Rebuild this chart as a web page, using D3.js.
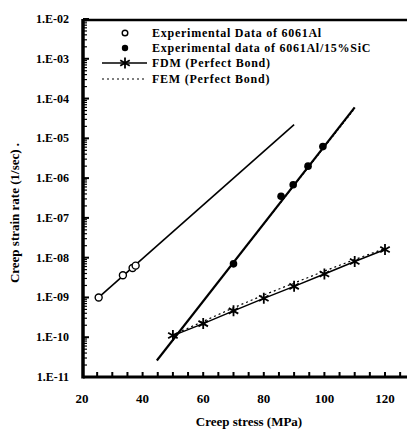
<!DOCTYPE html>
<html>
<head>
<meta charset="utf-8">
<script src="https://cdnjs.cloudflare.com/ajax/libs/d3/7.8.5/d3.min.js"></script>
<style>
  body { margin: 0; background: #fff; }
  text { font-family: "Liberation Serif", "Times New Roman", serif; font-weight: bold; }
</style>
</head>
<body>
<div id="chart"></div>
<script>

// experimental points
var alStress = [25.5, 33.5, 36.7, 37.7];
var alRate = [1e-9, 3.6e-9, 5.5e-9, 6.3e-9];

var sicStress = [70, 85.7, 89.7, 94.6, 99.5];
var sicRate = [7e-9, 3.5e-7, 6.8e-7, 2.0e-6, 6.2e-6];

// model curves
var fdmAlStress = [25.5, 90];
var fdmAlRate = [1e-9, 2.2e-5];

var fdmSicStress = [44.7, 110];
var fdmSicRate = [2.6e-11, 6e-5];

var femSicStress = [52, 110];
var femSicRate = [1.35e-10, 5.5e-5];

var fdmLowStress = [50, 60, 70, 80, 90, 100, 110, 120];
var fdmLowRate = [1.1e-10, 2.2e-10, 4.6e-10, 9.5e-10, 1.9e-9, 3.9e-9, 8e-9, 1.6e-8];

var femLowStress = [50, 60, 70, 80, 90, 100, 110, 120];
var femLowRate = [1.15e-10, 2.5e-10, 5.5e-10, 1.15e-9, 2.3e-9, 4.6e-9, 9e-9, 1.7e-8];

var xTicks = [20, 40, 60, 80, 100, 120];
var yTicks = [1e-11, 1e-10, 1e-9, 1e-8, 1e-7, 1e-6, 1e-5, 1e-4, 1e-3, 1e-2];

var legendLabels = [
    'Experimental Data of 6061Al',
    'Experimental data of 6061Al/15%SiC',
    'FDM (Perfect Bond)',
    'FEM (Perfect Bond)'
];

function zip(xs, ys) {
    return xs.map(function (x, i) { return [x, ys[i]]; });
}

var attrs = {
    svgWidth: 407,
    svgHeight: 429,
    left: 83,
    right: 407,
    top: 20,
    bottom: 377
};

var svg = d3.select('#chart')
    .append('svg')
    .attr('width', attrs.svgWidth)
    .attr('height', attrs.svgHeight);

var x = d3.scaleLinear().domain([20, 120]).range([82, 385]);
var y = d3.scaleLog().domain([1e-11, 1e-2]).range([attrs.bottom, 19]);

//axes
var xMinor = d3.range(25, 130, 5).filter(function (v) { return x(v) < attrs.right; });

svg.append('g')
    .attr('transform', 'translate(0,' + attrs.bottom + ')')
    .selectAll('line')
    .data(xMinor)
    .enter()
    .append('line')
    .attr('x1', function (d) { return x(d); })
    .attr('x2', function (d) { return x(d); })
    .attr('y1', 0)
    .attr('y2', -5)
    .attr('stroke', '#000')
    .attr('stroke-width', 2);

svg.append('g')
    .selectAll('text')
    .data(xTicks)
    .enter()
    .append('text')
    .attr('x', function (d) { return x(d); })
    .attr('y', 403)
    .attr('text-anchor', 'middle')
    .attr('font-size', 13)
    .text(function (d) { return d; });

var yMinor = [];
yTicks.slice(0, -1).forEach(function (t) {
    for (var k = 2; k <= 9; k++) yMinor.push(t * k);
});

svg.append('g')
    .selectAll('line.minor')
    .data(yMinor)
    .enter()
    .append('line')
    .attr('x1', attrs.left)
    .attr('x2', attrs.left + 4)
    .attr('y1', function (d) { return y(d); })
    .attr('y2', function (d) { return y(d); })
    .attr('stroke', '#000')
    .attr('stroke-width', 1.2);

svg.append('g')
    .selectAll('line.major')
    .data(yTicks)
    .enter()
    .append('line')
    .attr('x1', attrs.left)
    .attr('x2', attrs.left + 6)
    .attr('y1', function (d) { return y(d); })
    .attr('y2', function (d) { return y(d); })
    .attr('stroke', '#000')
    .attr('stroke-width', 2);

svg.append('g')
    .selectAll('text')
    .data(yTicks)
    .enter()
    .append('text')
    .attr('x', 69)
    .attr('y', function (d) { return y(d) + 4; })
    .attr('text-anchor', 'end')
    .attr('font-size', 12)
    .text(function (d) {
        var e = Math.round(Math.log10(d));
        return '1.E-' + d3.format('02d')(-e);
    });

// frame
svg.append('line')
    .attr('x1', attrs.left).attr('x2', attrs.right)
    .attr('y1', attrs.top).attr('y2', attrs.top)
    .attr('stroke', '#000').attr('stroke-width', 2.5);
svg.append('line')
    .attr('x1', attrs.left).attr('x2', attrs.right)
    .attr('y1', attrs.bottom).attr('y2', attrs.bottom)
    .attr('stroke', '#000').attr('stroke-width', 3);
svg.append('line')
    .attr('x1', attrs.left).attr('x2', attrs.left)
    .attr('y1', attrs.top - 1).attr('y2', attrs.bottom + 1.5)
    .attr('stroke', '#000').attr('stroke-width', 3.5);

// titles
svg.append('text')
    .attr('transform', 'translate(19,213) rotate(-90)')
    .attr('text-anchor', 'middle')
    .attr('font-size', 13)
    .text('Creep strain rate (1/sec) .');

svg.append('text')
    .attr('x', 249)
    .attr('y', 426)
    .attr('text-anchor', 'middle')
    .attr('font-size', 13)
    .text('Creep stress (MPa)');

//lines
var line = d3.line()
    .x(function (d) { return x(d[0]); })
    .y(function (d) { return y(d[1]); });

var curves = [
    { data: zip(fdmAlStress, fdmAlRate), width: 1.6, dash: null },
    { data: zip(fdmSicStress, fdmSicRate), width: 2.2, dash: null },
    { data: zip(femSicStress, femSicRate), width: 1, dash: '2,2' },
    { data: zip(fdmLowStress, fdmLowRate), width: 1.5, dash: null },
    { data: zip(femLowStress, femLowRate), width: 1.2, dash: '2,3' }
];

svg.append('g')
    .selectAll('path')
    .data(curves)
    .enter()
    .append('path')
    .attr('d', function (d) { return line(d.data); })
    .attr('fill', 'none')
    .attr('stroke', '#000')
    .attr('stroke-width', function (d) { return d.width; })
    .attr('stroke-dasharray', function (d) { return d.dash; });

// markers
var star = d3.symbol().type(d3.symbolAsterisk).size(85);

svg.append('g')
    .selectAll('circle')
    .data(zip(alStress, alRate))
    .enter()
    .append('circle')
    .attr('cx', function (d) { return x(d[0]); })
    .attr('cy', function (d) { return y(d[1]); })
    .attr('r', 3.5)
    .attr('fill', '#fff')
    .attr('stroke', '#000')
    .attr('stroke-width', 1.4);

svg.append('g')
    .selectAll('circle')
    .data(zip(sicStress, sicRate))
    .enter()
    .append('circle')
    .attr('cx', function (d) { return x(d[0]); })
    .attr('cy', function (d) { return y(d[1]); })
    .attr('r', 3.8)
    .attr('fill', '#000');

svg.append('g')
    .selectAll('path')
    .data(zip(fdmLowStress, fdmLowRate))
    .enter()
    .append('path')
    .attr('transform', function (d) { return 'translate(' + x(d[0]) + ',' + y(d[1]) + ')'; })
    .attr('d', star)
    .attr('fill', 'none')
    .attr('stroke', '#000')
    .attr('stroke-width', 1.8);

// legend
var legend = svg.append('g');
var rowY = [33, 48, 63, 79];

legend.selectAll('text')
    .data(legendLabels)
    .enter()
    .append('text')
    .attr('x', 152)
    .attr('y', function (d, i) { return rowY[i] + 4; })
    .attr('font-size', 12)
    .attr('letter-spacing', 0.75)
    .text(function (d) { return d; });

legend.append('circle')
    .attr('cx', 125).attr('cy', rowY[0]).attr('r', 2.8)
    .attr('fill', '#fff').attr('stroke', '#000').attr('stroke-width', 1.4);
legend.append('circle')
    .attr('cx', 125).attr('cy', rowY[1]).attr('r', 3.2)
    .attr('fill', '#000');
legend.append('line')
    .attr('x1', 102).attr('x2', 147).attr('y1', rowY[2]).attr('y2', rowY[2])
    .attr('stroke', '#000').attr('stroke-width', 1.5);
legend.append('path')
    .attr('transform', 'translate(125,' + rowY[2] + ')')
    .attr('d', star)
    .attr('fill', 'none').attr('stroke', '#000').attr('stroke-width', 1.8);
legend.append('line')
    .attr('x1', 102).attr('x2', 147).attr('y1', rowY[3]).attr('y2', rowY[3])
    .attr('stroke', '#000').attr('stroke-width', 1.2).attr('stroke-dasharray', '2,3');

</script>
</body>
</html>
